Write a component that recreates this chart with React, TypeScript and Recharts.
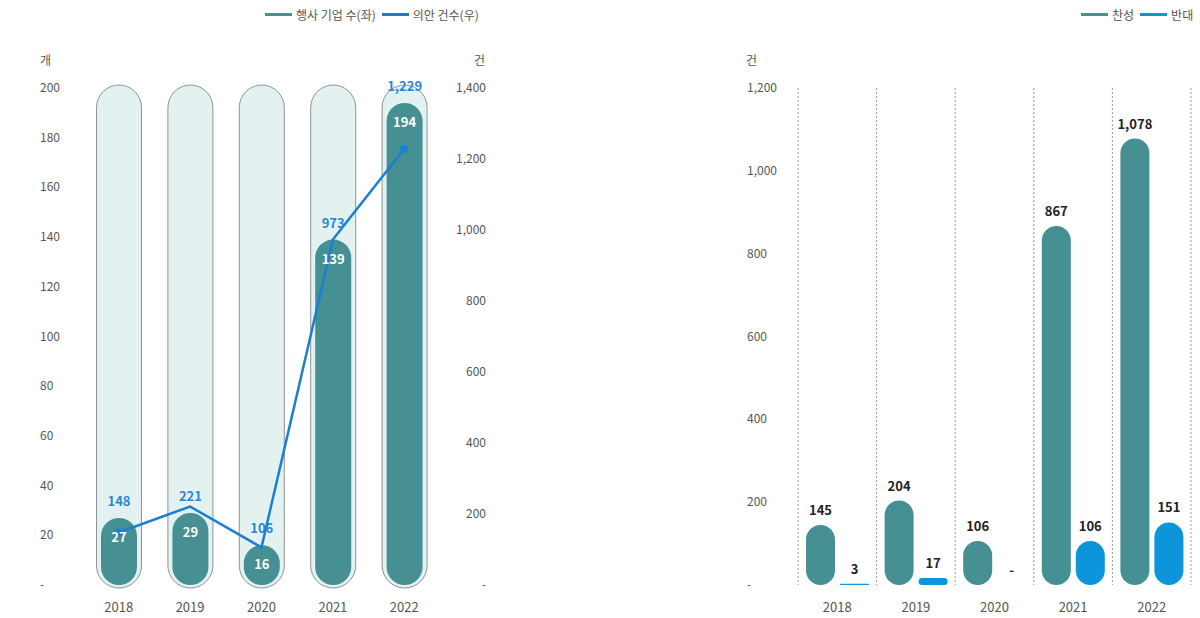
import React from 'react';
import { ComposedChart, BarChart, Bar, Line, XAxis, YAxis, CartesianGrid, LabelList } from 'recharts';

const years = ['2018', '2019', '2020', '2021', '2022'];
const companies = [27, 29, 16, 139, 194];
const proposals = [148, 221, 106, 973, 1229];
const leftTicks = [0, 20, 40, 60, 80, 100, 120, 140, 160, 180, 200];
const rightTicks = [0, 200, 400, 600, 800, 1000, 1200, 1400];

const approve = [145, 204, 106, 867, 1078];
const oppose = [3, 17, 0, 106, 151];
const voteTicks = [0, 200, 400, 600, 800, 1000, 1200];

const leftData = years.map((y, i) => ({ year: y, companies: companies[i], proposals: proposals[i] }));
const rightData = years.map((y, i) => ({ year: y, approve: approve[i], oppose: oppose[i] }));

const TEAL = '#468f93';
const LINE_BLUE = '#1a7fd0';
const BAR_BLUE = '#0c95db';
const LABEL_BLUE = '#2a86d4';
const TEXT = '#555';
const FONT = '"Noto Sans CJK KR", "Noto Sans", sans-serif';

const fmt = (v: any) => (Number(v) === 0 ? '-' : Number(v).toLocaleString('en-US'));

function capsulePath(x: number, y: number, w: number, h: number) {
  const r = Math.max(0, Math.min(w / 2, h / 2));
  return `M${x + r},${y} H${x + w - r} A${r},${r} 0 0 1 ${x + w},${y + r} V${y + h - r} A${r},${r} 0 0 1 ${x + w - r},${y + h} H${x + r} A${r},${r} 0 0 1 ${x},${y + h - r} V${y + r} A${r},${r} 0 0 1 ${x + r},${y} Z`;
}

const Capsule = (props: any) => {
  const { x, y, width, height, fill } = props;
  if (!height || height <= 0) return <g />;
  return <path d={capsulePath(x, y, width, height)} fill={fill} />;
};

const BgCapsule = (props: any) => {
  const { x, y, width, height } = props;
  return (
    <path
      d={capsulePath(x - 4.5, y - 3, width + 9, height + 6)}
      fill="#e3f1f0"
      stroke="#8d9494"
      strokeWidth={1}
    />
  );
};

const LeftTick = (props: any) => (
  <text x={40} y={props.y - 1.5} textAnchor="start" dominantBaseline="central" fill={TEXT} fontSize={12} fontFamily={FONT}>
    {fmt(props.payload.value)}
  </text>
);
const RightTick = (props: any) => (
  <text x={486} y={props.y - 1.5} textAnchor="end" dominantBaseline="central" fill={TEXT} fontSize={12} fontFamily={FONT}>
    {fmt(props.payload.value)}
  </text>
);
const VoteTick = (props: any) => (
  <text x={47} y={props.y - 1.5} textAnchor="start" dominantBaseline="central" fill={TEXT} fontSize={12} fontFamily={FONT}>
    {fmt(props.payload.value)}
  </text>
);
const YearTick = (props: any) => (
  <text x={props.x} y={props.y + 13} textAnchor="middle" dominantBaseline="central" fill={TEXT} fontSize={13} fontFamily={FONT}>
    {props.payload.value}
  </text>
);

const LineDot = (props: any) => {
  const { cx, cy, index } = props;
  if (index === 0 || index === years.length - 1) {
    return <circle key={`d${index}`} cx={cx} cy={cy} r={4} fill={LINE_BLUE} />;
  }
  return <g key={`d${index}`} />;
};

const LegendItem = ({ color, label }: { color: string; label: string }) => (
  <span style={{ display: 'inline-flex', alignItems: 'center', marginLeft: 6 }}>
    <span style={{ display: 'inline-block', width: 27, height: 3, background: color, marginRight: 4 }} />
    <span>{label}</span>
  </span>
);

const unitStyle: React.CSSProperties = {
  position: 'absolute',
  fontSize: 12,
  color: TEXT,
  fontFamily: FONT,
};

export default function App() {
  return (
    <div style={{ position: 'absolute', left: 0, top: 0, width: 1200, height: 618, background: '#fff', fontFamily: FONT, overflow: 'hidden' }}>
      <div style={{ position: 'absolute', left: 259, top: 6, fontSize: 12, color: TEXT, display: 'flex', whiteSpace: 'nowrap' }}>
        <LegendItem color={TEAL} label="행사 기업 수(좌)" />
        <LegendItem color={LINE_BLUE} label="의안 건수(우)" />
      </div>
      <div style={{ position: 'absolute', left: 1075, top: 6, fontSize: 12, color: TEXT, display: 'flex', whiteSpace: 'nowrap' }}>
        <LegendItem color={TEAL} label="찬성" />
        <LegendItem color={BAR_BLUE} label="반대" />
      </div>
      <div style={{ ...unitStyle, left: 40, top: 51 }}>개</div>
      <div style={{ ...unitStyle, left: 474, top: 51 }}>건</div>
      <div style={{ ...unitStyle, left: 746, top: 51 }}>건</div>

      <div style={{ position: 'absolute', left: 0, top: 0 }}>
        <ComposedChart width={520} height={618} data={leftData} margin={{ top: 88, right: 0, bottom: 3, left: 0 }}>
          <XAxis dataKey="year" height={30} axisLine={false} tickLine={false} tick={<YearTick />} />
          <YAxis yAxisId="left" domain={[0, 200]} ticks={leftTicks} width={83} axisLine={false} tickLine={false} tick={<LeftTick />} interval={0} />
          <YAxis yAxisId="right" orientation="right" domain={[0, 1400]} ticks={rightTicks} width={80} axisLine={false} tickLine={false} tick={<RightTick />} interval={0} />
          <Bar yAxisId="left" dataKey="companies" barSize={36} fill={TEAL} shape={<Capsule />} background={BgCapsule} isAnimationActive={false}>
            <LabelList dataKey="companies" position="insideTop" offset={15} fill="#fff" fontSize={13} fontWeight={700} fontFamily={FONT} />
            <LabelList dataKey="proposals" position="top" offset={12} formatter={fmt} fill={LABEL_BLUE} fontSize={13} fontWeight={700} fontFamily={FONT} />
          </Bar>
          <Line yAxisId="right" dataKey="proposals" stroke={LINE_BLUE} strokeWidth={2.5} dot={LineDot} activeDot={false} isAnimationActive={false} />
        </ComposedChart>
      </div>

      <div style={{ position: 'absolute', left: 700, top: 0 }}>
        <BarChart width={500} height={618} data={rightData} margin={{ top: 88, right: 9, bottom: 3, left: 0 }} barGap={5}>
          <CartesianGrid
            horizontal={false}
            vertical
            stroke="#9a9a9a"
            strokeDasharray="2 2"
            verticalCoordinatesGenerator={(p: any) => {
              const { left, width } = p.offset;
              return years.map((_, i) => left + (width * i) / years.length).concat([left + width]);
            }}
          />
          <XAxis dataKey="year" height={30} axisLine={false} tickLine={false} tick={<YearTick />} />
          <YAxis domain={[0, 1200]} ticks={voteTicks} width={98} axisLine={false} tickLine={false} tick={<VoteTick />} interval={0} />
          <Bar dataKey="approve" barSize={29} fill={TEAL} shape={<Capsule />} isAnimationActive={false}>
            <LabelList dataKey="approve" position="top" offset={10} formatter={fmt} fill="#222" fontSize={13} fontWeight={700} fontFamily={FONT} />
          </Bar>
          <Bar dataKey="oppose" barSize={29} fill={BAR_BLUE} shape={<Capsule />} isAnimationActive={false}>
            <LabelList dataKey="oppose" position="top" offset={10} formatter={fmt} fill="#222" fontSize={13} fontWeight={700} fontFamily={FONT} />
          </Bar>
        </BarChart>
      </div>
    </div>
  );
}
